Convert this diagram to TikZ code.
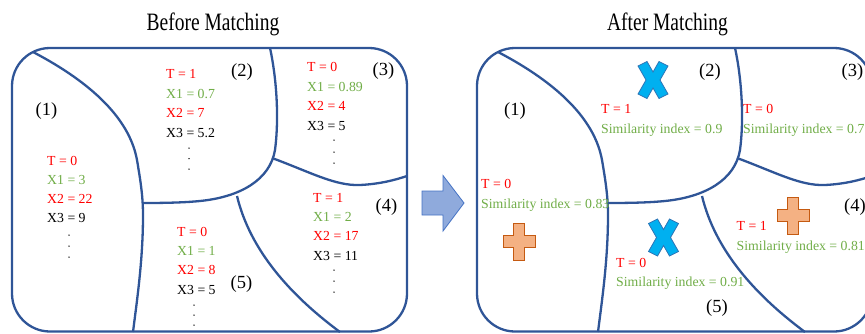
\documentclass[tikz,border=0pt]{standalone}
\usepackage{fontspec}
\setmainfont{Liberation Serif}
\definecolor{regline}{HTML}{2F5597}
\definecolor{tred}{HTML}{FF0000}
\definecolor{tgreen}{HTML}{70AD47}
\definecolor{arrfill}{HTML}{8FAADC}
\definecolor{arrdraw}{HTML}{4472C4}
\definecolor{xfill}{HTML}{00B0F0}
\definecolor{xdraw}{HTML}{2E75B6}
\definecolor{pfill}{HTML}{F4B183}
\definecolor{pdraw}{HTML}{C55A11}
\newcommand\panelregions[1]{%
\begin{scope}[xshift=#1]
  \draw[region, rounded corners=38pt] (12,48) rectangle (407,331.5);
  % line A
  \draw[region] (33,52) .. controls (75,74) and (128,110) .. (137,160)
     .. controls (140,178) and (143,195) .. (143,215)
     .. controls (143,260) and (137,300) .. (133,332);
  % line B
  \draw[region] (143,203) .. controls (175,203) and (190,202) .. (200,201)
     .. controls (240,197) and (270,180) .. (275,150)
     .. controls (279,120) and (277,80) .. (270,48);
  % line C
  \draw[region] (272,158) .. controls (310,172) and (335,186) .. (360,185)
     .. controls (380,184) and (395,180) .. (407,176);
  % line D
  \draw[region] (237,196) .. controls (250,250) and (290,295) .. (340,332);
\end{scope}}
\begin{document}
\begin{tikzpicture}[x=1pt,y=-1pt,
  region/.style={draw=regline, line width=2.3pt},
  txt/.style={font=\fontsize{13.8}{17}\selectfont, inner sep=0pt, anchor=base west},
  tr/.style={txt, text=tred},
  tg/.style={txt, text=tgreen},
  tk/.style={txt, text=black},
  lbl/.style={font=\fontsize{18.5}{22}\selectfont, inner sep=0pt, anchor=center},
  ttl/.style={font=\fontsize{25}{30}\selectfont, inner sep=0pt, anchor=base},
  dotm/.style={fill=black},
  pics/xmark/.style={code={
    \draw[fill=xfill, draw=xdraw, line width=0.8pt, line join=miter]
      (-6,-18.5) -- (0,-8) -- (6,-18.5) -- (15,-14) -- (7,0) -- (15,14) -- (6,18.5)
      -- (0,8) -- (-6,18.5) -- (-15,14) -- (-7,0) -- (-15,-14) -- cycle;}},
  pics/plusmark/.style={code={
    \draw[fill=pfill, draw=pdraw, line width=1pt]
      (-5.5,-18.5) -- (5.5,-18.5) -- (5.5,-6) -- (16,-6) -- (16,6) -- (5.5,6)
      -- (5.5,18.5) -- (-5.5,18.5) -- (-5.5,6) -- (-16,6) -- (-16,-6) -- (-5.5,-6) -- cycle;}}
]
\useasboundingbox (0,0) rectangle (865,333);
\clip (0,0) rectangle (865,333);

% titles
\node[ttl] (t1) at (213,30) {\scalebox{0.78}[1]{Before Matching}};
\node[ttl] (t2) at (667.5,30.5) {\scalebox{0.78}[1]{After Matching}};

% panels
\panelregions{0pt}
\panelregions{465pt}

% ---- left panel texts
\node[lbl] (l1) at (46.5,111.5) {(1)};
\node[lbl] (l2) at (242,72) {(2)};
\node[lbl] (l3) at (383.5,71.5) {(3)};
\node[lbl] (l4) at (386.5,207) {(4)};
\node[lbl] (l5) at (241.5,284) {(5)};

\node[tr] (a1) at (47,165.7) {T = 0};
\node[tg] (a2) at (47,184.7) {X1 = 3};
\node[tr] (a3) at (47,203.7) {X2 = 22};
\node[tk] (a4) at (47,222.7) {X3 = 9};
\foreach \yy in {235,246,257} \fill[dotm] (69,\yy) circle (0.75);

\node[tr] (b1) at (166,78.7) {T = 1};
\node[tg] (b2) at (166,98.2) {X1 = 0.7};
\node[tr] (b3) at (166,117.7) {X2 = 7};
\node[tk] (b4) at (166,137.2) {X3 = 5.2};
\foreach \yy in {148,158.5,169} \fill[dotm] (189,\yy) circle (0.75);

\node[tr] (c1) at (307,71.7) {T = 0};
\node[tg] (c2) at (307,91.2) {X1 = 0.89};
\node[tr] (c3) at (307,110.7) {X2 = 4};
\node[tk] (c4) at (307,130.7) {X3 = 5};
\foreach \yy in {140,152,163} \fill[dotm] (334,\yy) circle (0.75);

\node[tr] (d1) at (313,202.2) {T = 1};
\node[tg] (d2) at (313,221.7) {X1 = 2};
\node[tr] (d3) at (313,240.7) {X2 = 17};
\node[tk] (d4) at (313,260.2) {X3 = 11};
\foreach \yy in {270,281,292} \fill[dotm] (334,\yy) circle (0.75);

\node[tr] (e1) at (177,236.7) {T = 0};
\node[tg] (e2) at (177,255.7) {X1 = 1};
\node[tr] (e3) at (177,274.7) {X2 = 8};
\node[tk] (e4) at (177,294.2) {X3 = 5};
\foreach \yy in {305,315,325} \fill[dotm] (194,\yy) circle (0.75);

% ---- arrow
\draw[fill=arrfill, draw=arrdraw, line width=0.8pt]
  (422,191) -- (443,191) -- (443,175.5) -- (464,203) -- (443,231) -- (443,215) -- (422,215) -- cycle;

% ---- right panel
\node[lbl] (r1) at (515,111.5) {(1)};
\node[lbl] (r2) at (710,72) {(2)};
\node[lbl] (r3) at (852.5,72) {(3)};
\node[lbl] (r4) at (855,207) {(4)};
\node[lbl] (r5) at (717,308) {(5)};

\pic at (653,80) {xmark};
\pic at (663.5,237.5) {xmark};
\pic at (519,241.5) {plusmark};
\pic at (793,215.5) {plusmark};

\node[tr] (s1) at (601,113.7) {T = 1};
\node[tg] (s2) at (601,133.7) {Similarity index = 0.9};
\node[tr] (s3) at (743,113.7) {T = 0};
\node[tg] (s4) at (743,133.7) {Similarity index = 0.7};
\node[tr] (s5) at (481,188.7) {T = 0};
\node[tg] (s6) at (481,208.7) {Similarity index = 0.83};
\node[tr] (s7) at (616,267.2) {T = 0};
\node[tg] (s8) at (616,286.2) {Similarity index = 0.91};
\node[tr] (s9) at (736.5,230.7) {T = 1};
\node[tg] (s10) at (736.5,250.2) {Similarity index = 0.81};
\end{tikzpicture}
\end{document}
